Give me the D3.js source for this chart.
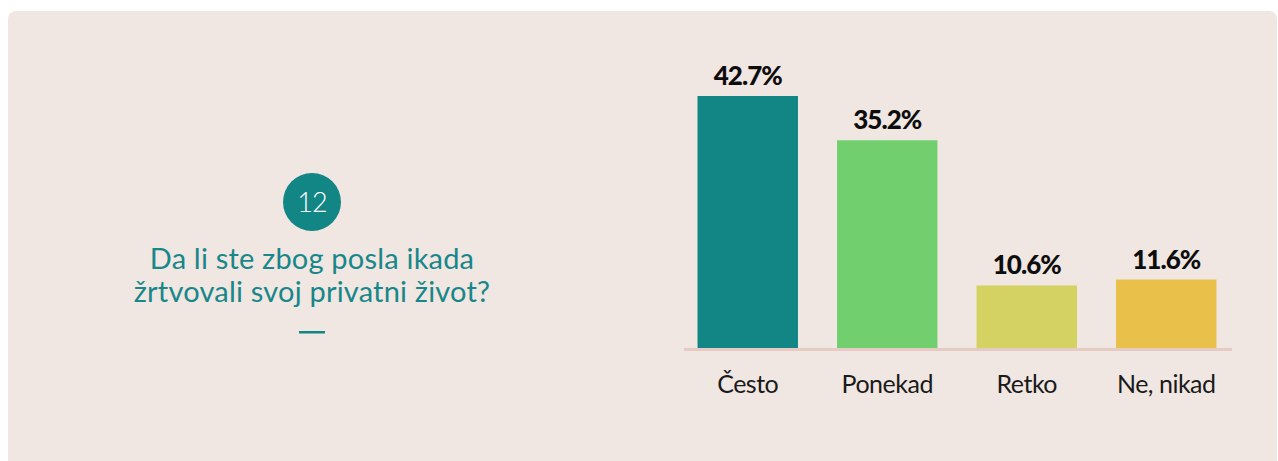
<!DOCTYPE html>
<meta charset="utf-8">
<style>
body { margin: 0; background: #fff; }
text { font-family: Lato, "Open Sans", sans-serif; }
.value { font-weight: 900; font-size: 26px; fill: #0d0d0d; letter-spacing: -1px; }
.cat { font-size: 25px; fill: #1a1a1a; letter-spacing: -0.5px; }
.title { font-size: 29px; fill: #17878a; letter-spacing: 0.2px; }
</style>
<svg width="1278" height="461"></svg>
<script src="https://d3js.org/d3.v7.min.js"></script>
<script>

var categories = ["Često", "Ponekad", "Retko", "Ne, nikad"];
var values = [42.7, 35.2, 10.6, 11.6];
var colors = ["#128585", "#72cf6d", "#d4d262", "#e9c049"];
var titleLines = ["Da li ste zbog posla ikada", "žrtvovali svoj privatni život?"];
var questionNo = "12";

var svg = d3.select("svg");

// card
svg.append("rect")
    .attr("x", 8).attr("y", 11)
    .attr("width", 1269).attr("height", 470)
    .attr("rx", 8)
    .attr("fill", "#f0e6e2");

// left side: number badge + question
var cx = 312;
svg.append("circle")
    .attr("cx", cx).attr("cy", 202).attr("r", 29)
    .attr("fill", "#128585");
svg.append("text")
    .attr("x", cx).attr("y", 212)
    .attr("text-anchor", "middle")
    .attr("font-size", 27)
    .attr("font-weight", 300)
    .attr("letter-spacing", -1)
    .attr("fill", "#fff")
    .text(questionNo);

// question, one text block with a line per tspan
svg.append("text")
    .attr("class", "title")
    .attr("text-anchor", "middle")
    .attr("y", 269)
  .selectAll("tspan")
  .data(titleLines)
  .enter().append("tspan")
    .attr("x", cx)
    .attr("dy", function(d, i) { return i ? 33 : 0; })
    .text(function(d) { return d; });

svg.append("rect")
    .attr("x", cx - 13).attr("y", 331)
    .attr("width", 26).attr("height", 2.5)
    .attr("fill", "#128585");

// bars
var x = d3.scaleBand()
    .domain(categories)
    .range([678, 1236])
    .paddingInner(0.28)
    .paddingOuter(0.14);

var y = d3.scaleLinear()
    .domain([0, 42.7])
    .range([348, 96]);

var data = categories.map(function(c, i) { return {cat: c, value: values[i], color: colors[i]}; });

svg.append("g").selectAll("rect")
  .data(data)
  .enter().append("rect")
    .attr("x", function(d) { return x(d.cat); })
    .attr("y", function(d) { return y(d.value); })
    .attr("width", x.bandwidth())
    .attr("height", function(d) { return y(0) - y(d.value); })
    .attr("fill", function(d) { return d.color; });

svg.append("g").selectAll("text")
  .data(data)
  .enter().append("text")
    .attr("class", "value")
    .attr("x", function(d) { return x(d.cat) + x.bandwidth() / 2; })
    .attr("y", function(d) { return y(d.value) - 11; })
    .attr("text-anchor", "middle")
    .text(function(d) { return d.value.toFixed(1) + "%"; });

// baseline
svg.append("line")
    .attr("x1", 684).attr("x2", 1232)
    .attr("y1", y(0) + 1.5).attr("y2", y(0) + 1.5)
    .attr("stroke", "#e5cbc3")
    .attr("stroke-width", 3);

// category labels
var xAxis = d3.axisBottom(x).tickSize(0).tickPadding(0);
var axisG = svg.append("g")
    .attr("transform", "translate(0," + y(0) + ")")
    .call(xAxis);
axisG.select(".domain").remove();
axisG.selectAll("text")
    .attr("class", "cat")
    .attr("dy", null)
    .attr("y", 45)
    .attr("font-family", null)
    .attr("font-size", null)
    .attr("fill", null);

</script>
